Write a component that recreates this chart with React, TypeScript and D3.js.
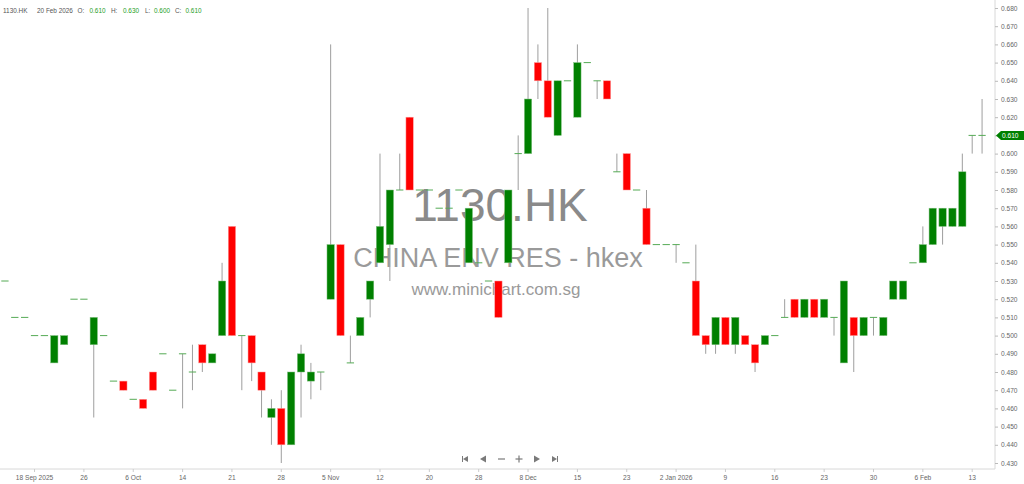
import { useEffect, useRef } from 'react'
import * as d3 from 'd3'

// daily OHLC, 1130.HK, 18 Sep 2025 .. 20 Feb 2026
const opens = [
  0.530, 0.510, 0.510, 0.500, 0.500, 0.485, 0.495, 0.520, 0.520, 0.495,
  0.500, 0.475, 0.475, 0.465, 0.465, 0.480, 0.490, 0.470, 0.490, 0.480,
  0.495, 0.485, 0.500, 0.560, 0.500, 0.500, 0.480, 0.455, 0.460, 0.440,
  0.480, 0.475, 0.480, 0.520, 0.550, 0.485, 0.500, 0.520, 0.540, 0.550,
  0.580, 0.620, 0.580, 0.580, 0.570, 0.570, 0.580, 0.540, 0.540, 0.530,
  0.530, 0.540, 0.600, 0.600, 0.650, 0.640, 0.610, 0.640, 0.620, 0.650,
  0.640, 0.640, 0.590, 0.600, 0.580, 0.570, 0.550, 0.550, 0.550, 0.540,
  0.530, 0.500, 0.495, 0.510, 0.495, 0.500, 0.495, 0.495, 0.500, 0.510,
  0.520, 0.510, 0.520, 0.510, 0.510, 0.485, 0.510, 0.500, 0.510, 0.500,
  0.520, 0.520, 0.540, 0.540, 0.550, 0.560, 0.560, 0.560, 0.610, 0.610,
]
const highs = [
  0.530, 0.510, 0.510, 0.500, 0.500, 0.500, 0.500, 0.520, 0.520, 0.510,
  0.500, 0.475, 0.475, 0.465, 0.465, 0.480, 0.490, 0.470, 0.490, 0.495,
  0.495, 0.490, 0.540, 0.560, 0.500, 0.500, 0.480, 0.465, 0.470, 0.480,
  0.495, 0.485, 0.480, 0.660, 0.550, 0.500, 0.510, 0.530, 0.600, 0.580,
  0.600, 0.620, 0.580, 0.580, 0.570, 0.570, 0.580, 0.570, 0.540, 0.530,
  0.530, 0.580, 0.610, 0.680, 0.660, 0.680, 0.640, 0.640, 0.660, 0.650,
  0.640, 0.640, 0.600, 0.600, 0.580, 0.580, 0.550, 0.550, 0.550, 0.540,
  0.550, 0.500, 0.510, 0.510, 0.510, 0.500, 0.495, 0.500, 0.500, 0.520,
  0.520, 0.520, 0.520, 0.520, 0.510, 0.530, 0.510, 0.510, 0.510, 0.510,
  0.530, 0.530, 0.540, 0.560, 0.570, 0.570, 0.570, 0.600, 0.610, 0.630,
]
const lows = [
  0.530, 0.510, 0.510, 0.500, 0.500, 0.485, 0.495, 0.520, 0.520, 0.455,
  0.500, 0.475, 0.470, 0.465, 0.460, 0.470, 0.490, 0.470, 0.460, 0.470,
  0.480, 0.485, 0.500, 0.500, 0.470, 0.475, 0.455, 0.440, 0.430, 0.440,
  0.455, 0.465, 0.470, 0.520, 0.500, 0.485, 0.500, 0.510, 0.540, 0.530,
  0.580, 0.580, 0.580, 0.580, 0.570, 0.570, 0.580, 0.540, 0.540, 0.530,
  0.510, 0.540, 0.580, 0.600, 0.630, 0.620, 0.610, 0.640, 0.620, 0.650,
  0.630, 0.630, 0.590, 0.580, 0.580, 0.550, 0.550, 0.550, 0.540, 0.540,
  0.500, 0.490, 0.490, 0.495, 0.490, 0.495, 0.480, 0.495, 0.500, 0.510,
  0.510, 0.510, 0.510, 0.510, 0.500, 0.485, 0.480, 0.500, 0.500, 0.500,
  0.520, 0.520, 0.540, 0.540, 0.550, 0.550, 0.560, 0.560, 0.600, 0.600,
]
const closes = [
  0.530, 0.510, 0.510, 0.500, 0.500, 0.500, 0.500, 0.520, 0.520, 0.510,
  0.500, 0.475, 0.470, 0.465, 0.460, 0.470, 0.490, 0.470, 0.490, 0.480,
  0.485, 0.490, 0.530, 0.500, 0.500, 0.485, 0.470, 0.460, 0.440, 0.480,
  0.490, 0.480, 0.480, 0.550, 0.500, 0.485, 0.510, 0.530, 0.560, 0.580,
  0.580, 0.580, 0.580, 0.580, 0.570, 0.570, 0.580, 0.570, 0.540, 0.530,
  0.510, 0.580, 0.600, 0.630, 0.640, 0.620, 0.640, 0.640, 0.650, 0.650,
  0.640, 0.630, 0.590, 0.580, 0.580, 0.550, 0.550, 0.550, 0.550, 0.540,
  0.500, 0.495, 0.510, 0.495, 0.510, 0.495, 0.485, 0.500, 0.500, 0.510,
  0.510, 0.520, 0.510, 0.520, 0.510, 0.530, 0.500, 0.510, 0.510, 0.510,
  0.530, 0.530, 0.540, 0.550, 0.570, 0.570, 0.570, 0.590, 0.610, 0.610,
]

const tickIndex = [3, 8, 13, 18, 23, 28, 33, 38, 43, 48, 53, 58, 63, 68, 73, 78, 83, 88, 93, 98]
const tickLabels = [
  '18 Sep 2025', '26', '6 Oct', '14', '21', '28', '5 Nov', '12', '20', '28',
  '8 Dec', '15', '23', '2 Jan 2026', '9', '16', '23', '30', '6 Feb', '13',
]

const header = [
  { text: '1130.HK', x: 3, green: false },
  { text: '20 Feb 2026', x: 37, green: false },
  { text: 'O:', x: 77.5, green: false },
  { text: '0.610', x: 89.5, green: true },
  { text: 'H:', x: 111, green: false },
  { text: '0.630', x: 123, green: true },
  { text: 'L:', x: 145, green: false },
  { text: '0.600', x: 154, green: true },
  { text: 'C:', x: 175, green: false },
  { text: '0.610', x: 185.5, green: true },
]

const lastPrice = 0.61
const FONT = "'Liberation Sans', Arial, sans-serif"

export default function App() {
  const svgRef = useRef<SVGSVGElement>(null)

  useEffect(() => {
    if (!svgRef.current) return
    const width = 1024
    const height = 484
    const axisX = 995
    const axisY = 469

    const svg = d3.select(svgRef.current)
    svg.selectAll('*').remove()

    const n = opens.length
    const x = d3.scaleBand<number>()
      .domain(d3.range(n))
      .range([0, 987])
      .paddingInner(0.26)
      .paddingOuter(0.13)
    const cx = (i: number) => (x(i) || 0) + x.bandwidth() / 2

    const y = d3.scaleLinear().domain([0.43, 0.68]).range([463, 8])

    svg.append('rect').attr('width', width).attr('height', height).attr('fill', '#fff')

    // watermark
    const wm = svg.append('g').style('font-family', FONT).attr('text-anchor', 'middle')
    wm.append('text').attr('x', 500).attr('y', 221)
      .attr('fill', '#8a8a8a').style('font-size', '46px').text('1130.HK')
    wm.append('text').attr('x', 498).attr('y', 267)
      .attr('fill', '#9a9a9a').style('font-size', '27px').text('CHINA ENV RES - hkex')
    wm.append('text').attr('x', 496).attr('y', 295)
      .attr('fill', '#9a9a9a').style('font-size', '17px').text('www.minichart.com.sg')

    const g = svg.append('g')
    const bars = d3.range(n)

    g.selectAll('line.wick')
      .data(bars.filter(i => highs[i] > lows[i]))
      .join('line')
      .attr('class', 'wick')
      .attr('x1', i => cx(i)).attr('x2', i => cx(i))
      .attr('y1', i => y(highs[i])).attr('y2', i => y(lows[i]))
      .attr('stroke', '#9e9e9e').attr('stroke-width', 1)

    g.selectAll('rect.body')
      .data(bars.filter(i => opens[i] !== closes[i]))
      .join('rect')
      .attr('class', 'body')
      .attr('x', i => x(i) || 0)
      .attr('width', x.bandwidth())
      .attr('y', i => y(Math.max(opens[i], closes[i])))
      .attr('height', i => Math.abs(y(opens[i]) - y(closes[i])))
      .attr('fill', i => (closes[i] > opens[i] ? '#008000' : '#ff0000'))
      .attr('stroke', i => (closes[i] > opens[i] ? '#7fbf7f' : '#ff9a9a'))
      .attr('stroke-width', 0.5)

    g.selectAll('line.doji')
      .data(bars.filter(i => opens[i] === closes[i]))
      .join('line')
      .attr('class', 'doji')
      .attr('x1', i => x(i) || 0).attr('x2', i => (x(i) || 0) + x.bandwidth())
      .attr('y1', i => y(closes[i])).attr('y2', i => y(closes[i]))
      .attr('stroke', '#55aa55').attr('stroke-width', 1)

    // right price axis
    svg.append('line')
      .attr('x1', axisX).attr('x2', axisX).attr('y1', 0).attr('y2', axisY)
      .attr('stroke', '#d8d8d8')
    const yAxis = d3.axisRight(y)
      .tickValues(d3.range(43, 69).map(v => v / 100))
      .tickFormat(d => d3.format('.3f')(d as number))
      .tickSize(3)
      .tickSizeOuter(0)
    const ya = svg.append('g')
      .attr('transform', `translate(${axisX},0)`)
      .call(yAxis)
    ya.select('.domain').remove()
    ya.selectAll('line').attr('stroke', '#bbb')
    ya.selectAll('text').attr('fill', '#666').attr('x', 6)
      .style('font-size', '6.6px').style('font-family', FONT)

    // last price tag
    const py = y(lastPrice)
    svg.append('path')
      .attr('d', `M${axisX + 1},${py} L${axisX + 6},${py - 4.5} L${width},${py - 4.5} L${width},${py + 4.5} L${axisX + 6},${py + 4.5} Z`)
      .attr('fill', '#008000')
    svg.append('text')
      .attr('x', 1002).attr('y', py + 2.4)
      .attr('fill', '#fff').style('font-size', '6.6px').style('font-family', FONT)
      .text(d3.format('.3f')(lastPrice))

    // bottom date axis
    svg.append('line')
      .attr('x1', 0).attr('x2', axisX).attr('y1', axisY).attr('y2', axisY)
      .attr('stroke', '#d8d8d8')
    const xAxis = d3.axisBottom(x)
      .tickValues(tickIndex)
      .tickFormat(d => tickLabels[tickIndex.indexOf(d as number)])
      .tickSize(3)
      .tickSizeOuter(0)
    const xa = svg.append('g')
      .attr('transform', `translate(0,${axisY})`)
      .call(xAxis)
    xa.select('.domain').remove()
    xa.selectAll('line').attr('stroke', '#ccc')
    xa.selectAll('text').attr('fill', '#666').attr('y', 6)
      .style('font-size', '6.6px').style('font-family', FONT)

    // navigation buttons
    const nav = svg.append('g').attr('fill', '#7a7a7a').attr('stroke', '#7a7a7a')
    const ny = 459
    nav.append('rect').attr('x', 462).attr('y', ny - 3).attr('width', 1).attr('height', 6).attr('stroke', 'none')
    nav.append('path').attr('d', `M463,${ny} L468,${ny - 3} L468,${ny + 3} Z`).attr('stroke', 'none')
    nav.append('path').attr('d', `M480,${ny} L486,${ny - 3.5} L486,${ny + 3.5} Z`).attr('stroke', 'none')
    nav.append('line').attr('x1', 498).attr('x2', 505).attr('y1', ny).attr('y2', ny).attr('stroke-width', 1.2)
    nav.append('line').attr('x1', 515.5).attr('x2', 522.5).attr('y1', ny).attr('y2', ny).attr('stroke-width', 1.2)
    nav.append('line').attr('x1', 519).attr('x2', 519).attr('y1', ny - 3.5).attr('y2', ny + 3.5).attr('stroke-width', 1.2)
    nav.append('path').attr('d', `M540,${ny} L534,${ny - 3.5} L534,${ny + 3.5} Z`).attr('stroke', 'none')
    nav.append('path').attr('d', `M557,${ny} L552,${ny - 3} L552,${ny + 3} Z`).attr('stroke', 'none')
    nav.append('rect').attr('x', 557).attr('y', ny - 3).attr('width', 1).attr('height', 6).attr('stroke', 'none')

    // header
    svg.append('g').selectAll('text')
      .data(header)
      .join('text')
      .attr('x', d => d.x).attr('y', 13)
      .attr('fill', d => (d.green ? '#1e9e1e' : '#555'))
      .style('font-size', '6.4px').style('font-family', FONT)
      .text(d => d.text)
  }, [])

  return (
    <div style={{ position: 'absolute', left: 0, top: 0, width: 1024, height: 484 }}>
      <svg ref={svgRef} width={1024} height={484} style={{ display: 'block' }} />
    </div>
  )
}
